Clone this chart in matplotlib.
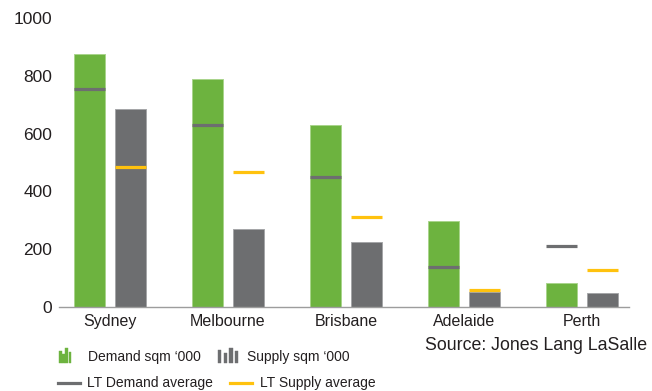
import numpy as np
import matplotlib
matplotlib.use("Agg")
import matplotlib.pyplot as plt
from matplotlib.patches import Rectangle
from matplotlib.lines import Line2D

plt.rcParams['font.family'] = ['Liberation Sans', 'DejaVu Sans']

# ── Data (sqm '000) ─────────────────────────────────
cities      = ['Sydney', 'Melbourne', 'Brisbane', 'Adelaide', 'Perth']
demand      = [877, 788, 630, 296, 84]
supply      = [684, 270, 226, 53, 49]
lt_demand   = [755, 629, 450, 140, 210]
lt_supply   = [485, 468, 310, 60, 129]
yticks      = [0, 200, 400, 600, 800, 1000]

# ── Styles ──────────────────────────────────────────
GREEN  = '#6db33f'
GREY   = '#6d6e70'
YELLOW = '#ffc20e'
W, H = 652, 391

fig = plt.figure(figsize=(W / 100, H / 100), dpi=100)
ax = fig.add_axes([59 / W, 1 - 307 / H, 570 / W, 289 / H])

x = np.arange(len(cities))
off, bw = 0.176, 0.26

ax.bar(x - off, demand, bw, color=GREEN, edgecolor='#a9d48c', linewidth=0.7)
ax.bar(x + off, supply, bw, color=GREY, edgecolor='#a5a6a8', linewidth=0.7)
ax.hlines(lt_demand, x - off - bw / 2, x - off + bw / 2, color=GREY, linewidth=2.3)
ax.hlines(lt_supply, x + off - bw / 2, x + off + bw / 2, color=YELLOW, linewidth=2.3)

ax.set_xlim(-0.432, 4.398)
ax.set_ylim(0, 1000)
ax.set_yticks(yticks)
ax.set_yticklabels([str(t) for t in yticks], fontsize=12.5)
ax.set_xticks(x)
ax.set_xticklabels(cities, fontsize=11.5)
ax.tick_params(axis='both', length=0, colors='#231f20')
ax.tick_params(axis='y', pad=5)
ax.tick_params(axis='x', pad=5)
for s in ['top', 'right', 'left']:
    ax.spines[s].set_visible(False)
ax.spines['bottom'].set_color('#9d9d9d')
ax.spines['bottom'].set_linewidth(1.0)


# ── Legend (hand drawn in figure pixels) ────────────
def fx(px):
    return px / W


def fy(py):
    return 1 - py / H


def bar_icon(x0, bar_w, gap, heights, color, bottom=363):
    for i, h in enumerate(heights):
        fig.add_artist(Rectangle((fx(x0 + i * (bar_w + gap)), fy(bottom)),
                                 bar_w / W, h / H, transform=fig.transFigure,
                                 facecolor=color, edgecolor=color, linewidth=0.3))


def line_icon(x0, x1, y, color):
    fig.add_artist(Line2D([fx(x0), fx(x1)], [fy(y), fy(y)],
                          transform=fig.transFigure, color=color, linewidth=2.3))


bar_icon(59, 2.6, 0.6, [12, 9, 15, 11], GREEN)
bar_icon(218, 3.4, 2.2, [13.5, 10.5, 15.5, 12.5], GREY)
line_icon(58, 80, 383, GREY)
line_icon(230, 252, 383, YELLOW)

lt = dict(fontsize=10, va='center', ha='left', color='#231f20')
fig.text(fx(87.5), fy(357), 'Demand sqm \u2018000', **lt)
fig.text(fx(247), fy(357), 'Supply sqm \u2018000', **lt)
fig.text(fx(87), fy(383), 'LT Demand average', **lt)
fig.text(fx(260), fy(383), 'LT Supply average', **lt)
fig.text(fx(425), fy(345), 'Source: Jones Lang LaSalle', fontsize=12.8,
         va='center', ha='left', color='#231f20')

fig.savefig('out.png', dpi=100)
